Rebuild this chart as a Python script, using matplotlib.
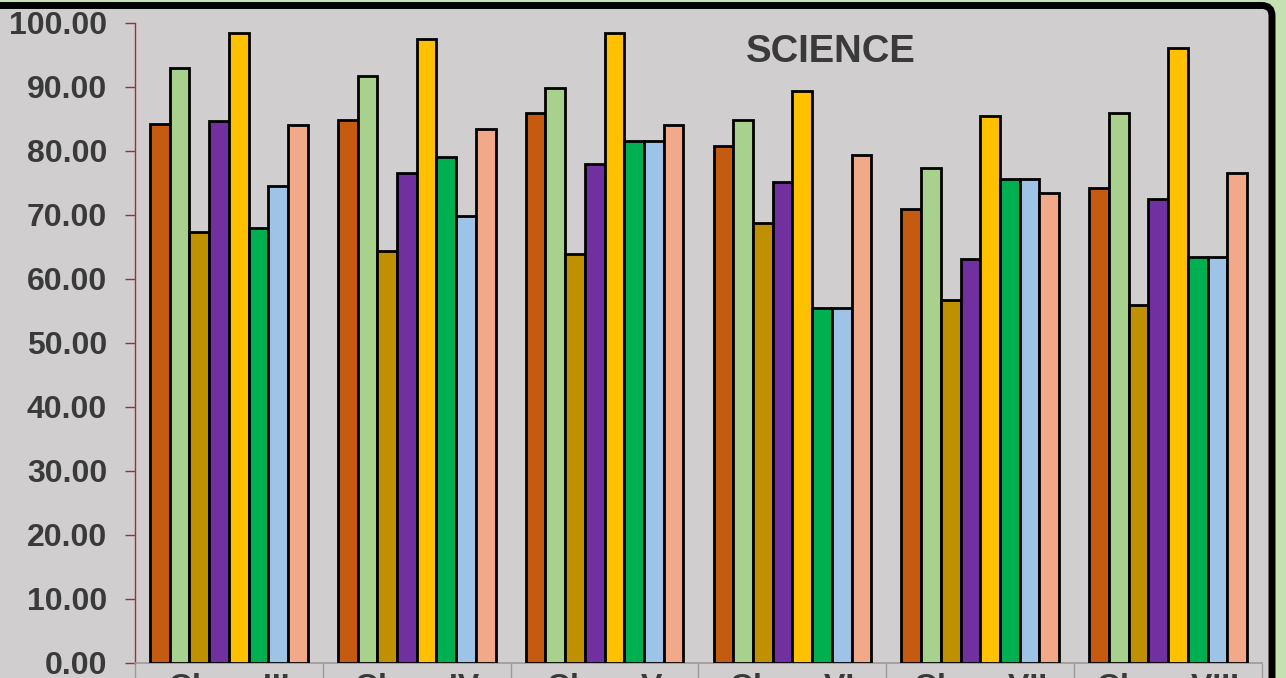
import numpy as np
import matplotlib.pyplot as plt
from matplotlib.patches import FancyBboxPatch

plt.rcParams['font.family'] = ['Liberation Sans', 'DejaVu Sans']

classes = ['Class III', 'Class IV', 'Class V', 'Class VI', 'Class VII', 'Class VIII']
series_1 = [84.2, 84.9, 86.0, 80.8, 70.9, 74.2]
series_2 = [92.9, 91.7, 89.9, 84.8, 77.4, 86.0]
series_3 = [67.4, 64.4, 63.9, 68.8, 56.7, 56.0]
series_4 = [84.7, 76.6, 78.0, 75.2, 63.1, 72.5]
series_5 = [98.5, 97.5, 98.4, 89.3, 85.5, 96.1]
series_6 = [68.0, 79.1, 81.5, 55.4, 75.7, 63.4]
series_7 = [74.5, 69.9, 81.5, 55.4, 75.7, 63.4]
series_8 = [84.1, 83.5, 84.0, 79.4, 73.4, 76.6]
yticks = np.arange(0, 101, 10)

all_series = [series_1, series_2, series_3, series_4,
              series_5, series_6, series_7, series_8]
colors = ['#C55A11', '#A9D18E', '#BF9000', '#7030A0',
          '#FFC000', '#00B050', '#9DC3E6', '#F2A98A']

W, H = 1286, 678
fig = plt.figure(figsize=(W / 100, H / 100), dpi=100)
fig.patch.set_facecolor('#C5E0B3')

# chart frame (grey with thick black border, clipped by the picture edge)
frame = FancyBboxPatch((-0.05, -0.1), 1272 / W + 0.05, 1 - 5.5 / H + 0.1,
                       boxstyle='round,pad=0,rounding_size=0.008',
                       mutation_aspect=W / H,
                       transform=fig.transFigure, facecolor='#D0CECE',
                       edgecolor='black', linewidth=5, zorder=-5)
fig.patches.append(frame)

ax = fig.add_axes([135 / W, 15 / H, (1262 - 135) / W, (663 - 23) / H])
ax.set_zorder(2)
ax.patch.set_visible(False)

x = np.arange(len(classes))
bw = 0.105
for i, (vals, c) in enumerate(zip(all_series, colors)):
    ax.bar(x + (i - 3.5) * bw, vals, width=bw, color=c,
           edgecolor='black', linewidth=2, zorder=3)

ax.set_xlim(-0.5, len(classes) - 0.5)
ax.set_ylim(0, 100)
ax.set_yticks(yticks)
ax.set_yticklabels([f'{v:.2f}' for v in yticks])

for s in ['top', 'right']:
    ax.spines[s].set_visible(False)
ax.spines['left'].set_color('#A03030')
ax.spines['left'].set_linewidth(1)
ax.spines['bottom'].set_color('#A09898')
ax.spines['bottom'].set_linewidth(1.2)

ax.tick_params(axis='y', direction='out', length=7, width=1, color='#A03030',
               pad=13, labelsize=23, labelcolor='#3A3A3A')
for lab in ax.get_yticklabels():
    lab.set_fontweight('bold')

ax.set_xticks(x)
ax.set_xticklabels(classes, fontsize=23, fontweight='bold', color='#3A3A3A')
ax.set_xticks(np.arange(len(classes) + 1) - 0.5, minor=True)
ax.tick_params(axis='x', which='major', length=0, pad=7)
ax.tick_params(axis='x', which='minor', direction='out', length=20,
               width=1, color='#A09898')

fig.text(831 / W, 1 - 61.7 / H, 'SCIENCE', ha='center', va='baseline',
         fontsize=27.5, fontweight='bold', color='#3A3A3A', zorder=5)

fig.savefig('out.png', dpi=100, facecolor=fig.get_facecolor())
